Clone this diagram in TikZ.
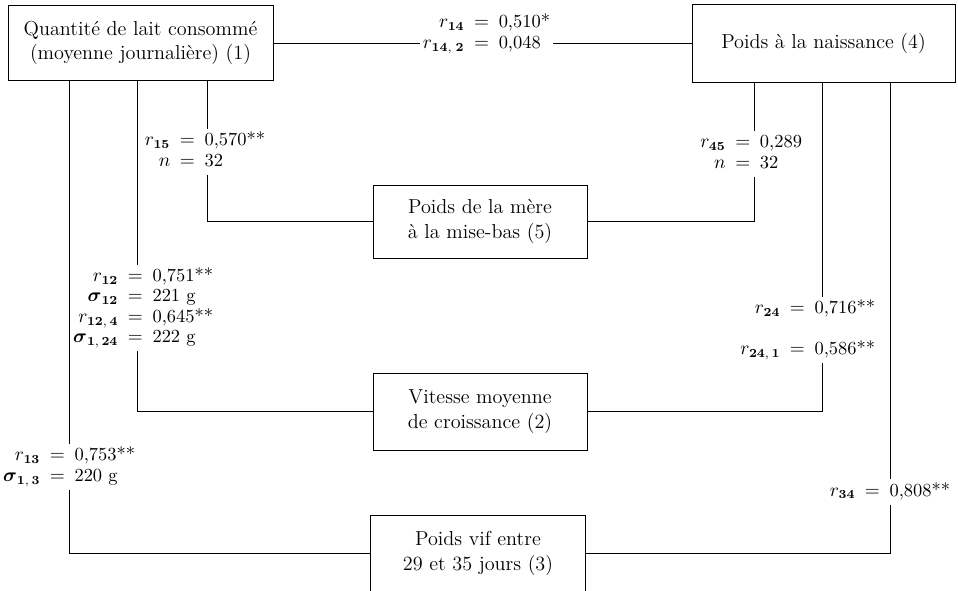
\documentclass[tikz,border=0pt]{standalone}
\usepackage{amsmath}
\usetikzlibrary{calc}
\begin{document}
\begin{tikzpicture}[x=0.02cm,y=-0.02cm,
    box/.style={draw,line width=0.5pt,align=center,inner sep=0pt,font=\fontsize{11.5}{14}\selectfont},
    link/.style={line width=0.5pt},
    lab/.style={fill=white,inner sep=1.5pt,font=\fontsize{10.5}{11.5}\selectfont}]
    \useasboundingbox (0,0) rectangle (958,591);

    \node[box,minimum width=5.3cm,minimum height=1.5cm] (b1) at (140.5,43) {Quantité de lait consommé\\(moyenne journalière) (1)};
    \node[box,minimum width=5.26cm,minimum height=1.56cm] (b4) at (823.5,43) {Poids à la naissance (4)};
    \node[box,minimum width=4.28cm,minimum height=1.46cm] (b5) at (480,221.5) {Poids de la mère\\à la mise-bas (5)};
    \node[box,minimum width=4.28cm,minimum height=1.54cm] (b2) at (480,411.5) {Vitesse moyenne\\de croissance (2)};
    \node[box,draw=none,minimum width=4.28cm,minimum height=1.5cm] (b3) at (478,553.5) {Poids vif entre\\29 et 35 jours (3)};
    \draw[link] (b3.south west) -- (b3.north west) -- (b3.north east) -- (b3.south east); % open at the bottom

    \draw[link] (b1.east) -- (b4.west);
    \draw[link] ($(b1.south west)+(200,0)$) |- (b5.west);
    \draw[link] ($(b1.south west)+(130,0)$) |- (b2.west);
    \draw[link] ($(b1.south west)+(62,0)$) |- (b3.west);
    \draw[link] ($(b4.south west)+(63,0)$) |- (b5.east);
    \draw[link] ($(b4.south west)+(131,0)$) |- (b2.east);
    \draw[link] ($(b4.south west)+(199,0)$) |- (b3.east);

    \node[lab,anchor=east] (l14) at (553,34) {\begin{tabular}{@{}r@{${}\:=\:{}$}l@{}}
        $r_{\mathbf{14}}$ & 0,510*\\
        $r_{\mathbf{14},\;\mathbf{2}}$ & 0,048\end{tabular}};
    \node[lab,anchor=east] (l15) at (268,152) {\begin{tabular}{@{}r@{${}\:=\:{}$}l@{}}
        $r_{\mathbf{15}}$ & 0,570**\\
        $n$ & 32\end{tabular}};
    \node[lab,anchor=east] (l12) at (216,308) {\begin{tabular}{@{}r@{${}\:=\:{}$}l@{}}
        $r_{\mathbf{12}}$ & 0,751**\\
        $\boldsymbol{\sigma}_{\mathbf{12}}$ & 221 g\\
        $r_{\mathbf{12},\,\mathbf{4}}$ & 0,645**\\
        $\boldsymbol{\sigma}_{\mathbf{1},\,\mathbf{24}}$ & 222 g\end{tabular}};
    \node[lab,anchor=east] (l13) at (138,467) {\begin{tabular}{@{}r@{${}\:=\:{}$}l@{}}
        $r_{\mathbf{13}}$ & 0,753**\\
        $\boldsymbol{\sigma}_{\mathbf{1},\,\mathbf{3}}$ & 220 g\end{tabular}};
    \node[lab,anchor=east] (l45) at (805,154) {\begin{tabular}{@{}r@{${}\:=\:{}$}l@{}}
        $r_{\mathbf{45}}$ & 0,289\\
        $n$ & 32\end{tabular}};
    \node[lab,anchor=east] (l24) at (878,330) {\begin{tabular}{@{}r@{${}\:=\:{}$}l@{}}
        $r_{\mathbf{24}}$ & 0,716**\\[12pt]
        $r_{\mathbf{24},\,\mathbf{1}}$ & 0,586**\end{tabular}};
    \node[lab,anchor=east] (l34) at (953,492) {\begin{tabular}{@{}r@{${}\:=\:{}$}l@{}}
        $r_{\mathbf{34}}$ & 0,808**\end{tabular}};
\end{tikzpicture}
\end{document}
